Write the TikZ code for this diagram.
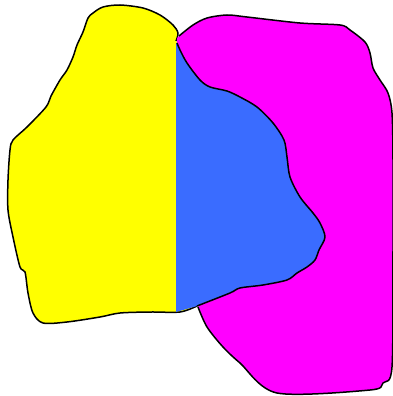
\documentclass[tikz,border=0pt]{standalone}
\usepackage{tikz}
\usepackage{xcolor}
\definecolor{blobyellow}{RGB}{255, 255, 0}
\definecolor{blobmagenta}{RGB}{255, 0, 255}
\definecolor{overlapblue}{RGB}{58, 108, 255}

% inner rim shared by the yellow blob and the blue overlap
\newcommand{\overlaprim}{(197,306) (230,293) (240,288) (263,285) (287,280) (297,273) (307,267) (315,260) (319,250) (325,237) (320,223) (313,213) (300,197) (290,177) (287,157) (284,140) (273,123) (257,107) (240,97) (227,91) (210,87) (200,80) (187,63) (180,50) (177,43)}

\begin{document}
\begin{tikzpicture}[x=1pt, y=-1pt, line width=1.5pt, line join=round]
    \useasboundingbox (0,0) rectangle (393,396);

    % Yellow blob
    \fill[blobyellow] plot[smooth] coordinates {(176,41) (178,33) (173,25) (160,15) (143,8) (120,5) (103,7) (93,13) (88,18) (83,32) (77,45) (73,57) (67,70) (60,80) (51,96) (46,107) (27,127) (13,140) (10,150) (8,180) (8,210) (13,237) (20,267) (25,272) (28,293) (33,313) (43,323) (67,322) (100,317) (120,313) (150,312) (180,312) (197,306)}
        -- plot[smooth] coordinates {\overlaprim} -- cycle;
    \draw plot[smooth] coordinates {(176,41) (178,33) (173,25) (160,15) (143,8) (120,5) (103,7) (93,13) (88,18) (83,32) (77,45) (73,57) (67,70) (60,80) (51,96) (46,107) (27,127) (13,140) (10,150) (8,180) (8,210) (13,237) (20,267) (25,272) (28,293) (33,313) (43,323) (67,322) (100,317) (120,313) (150,312) (180,312) (197,306)};

    % Magenta blob
    \fill[blobmagenta] plot[smooth] coordinates {(179,36) (193,25) (207,18) (227,15) (247,17) (300,23) (340,25) (350,30) (365,42) (370,53) (373,68) (380,80) (388,93) (392,113) (393,160) (393,250) (392,367) (383,383) (370,390) (277,393) (240,363) (223,347) (207,327) (198,307)}
        -- (240,260) -- (230,150) -- (200,90) -- (177,46) -- (177,38) -- cycle;
    \draw plot[smooth] coordinates {(179,36) (193,25) (207,18) (227,15) (247,17) (300,23) (340,25) (350,30) (365,42) (370,53) (373,68) (380,80) (388,93) (392,113) (393,160) (393,250) (392,367) (383,383) (370,390) (277,393) (240,363) (223,347) (207,327) (198,307)};

    % Blue overlap
    \fill[overlapblue] (176,312) -- plot[smooth] coordinates {\overlaprim} -- (176,43) -- cycle;
    \draw plot[smooth] coordinates {\overlaprim};
\end{tikzpicture}
\end{document}
